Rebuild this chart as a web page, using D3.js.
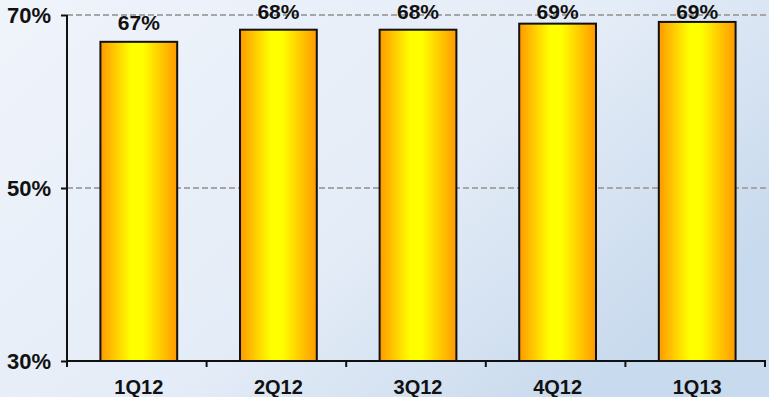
<!DOCTYPE html>
<html>
<head>
<meta charset="utf-8">
<script src="https://cdn.jsdelivr.net/npm/d3@7"></script>
<style>
  html, body { margin: 0; padding: 0; }
  svg { display: block; font-family: "Liberation Sans", Arial, sans-serif; }
</style>
</head>
<body>
<svg id="chart" width="769" height="397"></svg>
<script>
// quarters and the share per quarter (%)
const quarters = ["1Q12", "2Q12", "3Q12", "4Q12", "1Q13"];
const shares = [66.9, 68.3, 68.3, 69.0, 69.2];
const yTicks = [30, 50, 70];

const W = 769, H = 397;
const plot = { left: 67, right: 765, top: 15, bottom: 361 };

const svg = d3.select("#chart");
const defs = svg.append("defs");

// background: light at top-left, bluer to the right
const bg = defs.append("linearGradient").attr("id", "bg")
  .attr("x1", 0).attr("y1", 0).attr("x2", 1).attr("y2", 0.6);
bg.append("stop").attr("offset", 0).attr("stop-color", "#f0f4fb");
bg.append("stop").attr("offset", 0.6).attr("stop-color", "#e4ecf7");
bg.append("stop").attr("offset", 1).attr("stop-color", "#c8daed");

// bar fill: orange edges, yellow middle
const bar = defs.append("linearGradient").attr("id", "bar")
  .attr("x1", 0).attr("y1", 0).attr("x2", 1).attr("y2", 0);
bar.append("stop").attr("offset", 0).attr("stop-color", "#ff9900");
bar.append("stop").attr("offset", 0.4).attr("stop-color", "#ffff00");
bar.append("stop").attr("offset", 0.55).attr("stop-color", "#ffff00");
bar.append("stop").attr("offset", 1).attr("stop-color", "#ff9900");

svg.append("rect").attr("width", W).attr("height", H).attr("fill", "url(#bg)");

const x = d3.scaleBand().domain(quarters).range([plot.left, plot.right]).padding(0);
const y = d3.scaleLinear().domain([30, 70]).range([plot.bottom, plot.top]);
const barW = x.bandwidth() * 0.55;
const barX = (i) => x(quarters[i]) + (x.bandwidth() - barW) / 2 + 2;

// dashed grid lines
svg.append("g").selectAll("line")
  .data(yTicks.filter((t) => t > 30))
  .join("line")
  .attr("x1", plot.left).attr("x2", W)
  .attr("y1", (d) => y(d)).attr("y2", (d) => y(d))
  .attr("stroke", "#a6a6a6")
  .attr("stroke-width", 2)
  .attr("stroke-dasharray", "6,3");

// bars
svg.append("g").selectAll("rect")
  .data(shares)
  .join("rect")
  .attr("x", (d, i) => barX(i))
  .attr("y", (d) => y(d))
  .attr("width", barW)
  .attr("height", (d) => plot.bottom - y(d))
  .attr("fill", "url(#bar)")
  .attr("stroke", "#111")
  .attr("stroke-width", 2);

// value labels (kept inside the top edge like the original)
svg.append("g").selectAll("text")
  .data(shares)
  .join("text")
  .attr("x", (d, i) => barX(i) + barW / 2)
  .attr("y", (d) => Math.max(y(d) - 12, 18.5))
  .attr("text-anchor", "middle")
  .attr("font-size", 21)
  .attr("font-weight", "bold")
  .attr("fill", "#111")
  .text((d) => Math.round(d) + "%");

// y axis
const yAxis = svg.append("g")
  .attr("transform", `translate(${plot.left},0)`)
  .call(d3.axisLeft(y).tickValues(yTicks).tickSize(6).tickFormat((d) => d + "%"));
yAxis.select(".domain").attr("stroke", "#111").attr("stroke-width", 2)
  .attr("d", `M0,${plot.top}V${plot.bottom}`);
yAxis.selectAll(".tick line").attr("stroke", "#111").attr("stroke-width", 2);
yAxis.selectAll(".tick text")
  .attr("x", -16)
  .attr("dy", "0.36em")
  .attr("font-size", 22)
  .attr("font-weight", "bold")
  .attr("font-family", "Liberation Sans, Arial, sans-serif")
  .attr("fill", "#111");

// x axis: ticks on band edges, labels in band centres
const xAxis = svg.append("g").attr("transform", `translate(0,${plot.bottom})`);
xAxis.append("line")
  .attr("x1", plot.left).attr("x2", plot.right + 1)
  .attr("stroke", "#111").attr("stroke-width", 2);
xAxis.selectAll("line.edge")
  .data(quarters)
  .join("line")
  .attr("class", "edge")
  .attr("x1", (d) => x(d) + x.bandwidth()).attr("x2", (d) => x(d) + x.bandwidth())
  .attr("y1", 0).attr("y2", 6)
  .attr("stroke", "#111").attr("stroke-width", 2);
xAxis.append("line")
  .attr("x1", plot.left).attr("x2", plot.left).attr("y1", 0).attr("y2", 6)
  .attr("stroke", "#111").attr("stroke-width", 2);
xAxis.selectAll("text")
  .data(quarters)
  .join("text")
  .attr("x", (d, i) => barX(i) + barW / 2)
  .attr("y", 33)
  .attr("text-anchor", "middle")
  .attr("font-size", 20)
  .attr("font-weight", "bold")
  .attr("fill", "#111")
  .text((d) => d);
</script>
</body>
</html>
